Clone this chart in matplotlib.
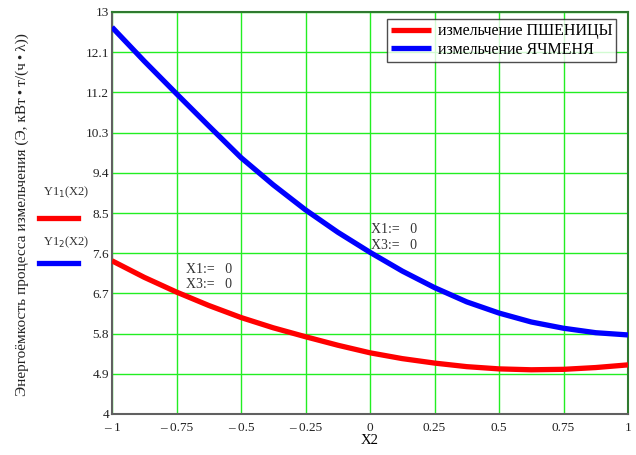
import matplotlib
matplotlib.use("Agg")
import matplotlib.pyplot as plt
from matplotlib.lines import Line2D

plt.rcParams["font.family"] = ["Liberation Serif", "DejaVu Serif"]

# values
x2 = [-1.0, -0.875, -0.75, -0.625, -0.5, -0.375, -0.25, -0.125, 0.0,
      0.125, 0.25, 0.375, 0.5, 0.625, 0.75, 0.875, 1.0]
wheat = [7.43, 7.06, 6.73, 6.43, 6.16, 5.93, 5.73, 5.54, 5.37,
         5.24, 5.14, 5.06, 5.01, 4.99, 5.00, 5.04, 5.10]
barley = [12.66, 11.90, 11.17, 10.45, 9.74, 9.13, 8.57, 8.07, 7.62,
          7.20, 6.83, 6.51, 6.26, 6.06, 5.92, 5.82, 5.77]

x_ticks = [-1, -0.75, -0.5, -0.25, 0, 0.25, 0.5, 0.75, 1]
x_tick_labels = ["\u2013 1", "\u2013 0.75", "\u2013 0.5", "\u2013 0.25", "0",
                 "0.25", "0.5", "0.75", "1"]
y_ticks = [4, 4.9, 5.8, 6.7, 7.6, 8.5, 9.4, 10.3, 11.2, 12.1, 13]
y_tick_labels = ["4", "4.9", "5.8", "6.7", "7.6", "8.5", "9.4", "10.3",
                 "11.2", "12.1", "13"]

GRID = "#22ee22"
RED = "#ff0000"
BLUE = "#0000ff"

fig = plt.figure(figsize=(6.36, 4.55), dpi=100)
ax = fig.add_axes([112 / 636, 1 - 414 / 455, 516 / 636, 402 / 455])

ax.plot(x2, wheat, color=RED, lw=3.8, solid_capstyle="butt",
        solid_joinstyle="round", label="измельчение ПШЕНИЦЫ", zorder=3)
ax.plot(x2, barley, color=BLUE, lw=3.8, solid_capstyle="butt",
        solid_joinstyle="round", label="измельчение ЯЧМЕНЯ", zorder=3)

ax.set_xlim(-1, 1)
ax.set_ylim(4, 13)
ax.set_xticks(x_ticks)
ax.set_xticklabels(x_tick_labels)
ax.set_yticks(y_ticks)
ax.set_yticklabels(y_tick_labels)
ax.tick_params(length=0, labelsize=9.5, colors="#222222")
ax.tick_params(axis="x", pad=6)
ax.tick_params(axis="y", pad=2)
ax.grid(True, color=GRID, lw=1.0, zorder=1)

for side in ("left", "bottom"):
    ax.spines[side].set_color("#606060")
    ax.spines[side].set_linewidth(1.5)
for side in ("top", "right"):
    ax.spines[side].set_color("#2f7a2f")
    ax.spines[side].set_linewidth(1.5)

ax.set_xlabel("X2", fontsize=10.5, labelpad=0)
fig.text(22 / 636, 1 - 215 / 455,
         "Энергоёмкость процесса измельчения (Э, кВт\u2009•\u2009т/(ч\u2009•\u2009λ))",
         fontsize=11, rotation=90, ha="center", va="center",
         color="#222222")

leg = ax.legend(loc="upper right", bbox_to_anchor=(0.9775, 0.982),
                fontsize=11.5, frameon=True, fancybox=False,
                edgecolor="#222222", handlelength=2.5, handletextpad=0.4,
                borderpad=0.25, labelspacing=0.15, borderaxespad=0)
leg.get_frame().set_linewidth(1.0)

# Mathcad-style parameter notes
ax.text(-0.715, 7.07, "X1:=   0\nX3:=   0", fontsize=10, color="#333333",
        va="center", linespacing=1.25)
ax.text(0.005, 7.95, "X1:=   0\nX3:=   0", fontsize=10, color="#333333",
        va="center", linespacing=1.25)

# left-side trace legend
fig.text(43 / 636, 1 - 192 / 455, "Y1$_1$(X2)", fontsize=9, color="#333333",
         va="center")
fig.text(43 / 636, 1 - 242 / 455, "Y1$_2$(X2)", fontsize=9, color="#333333",
         va="center")
fig.add_artist(Line2D([39 / 636, 78 / 636], [1 - 217.5 / 455] * 2,
                      color=RED, lw=3.8))
fig.add_artist(Line2D([39 / 636, 78 / 636], [1 - 263 / 455] * 2,
                      color=BLUE, lw=3.8))

fig.savefig("out.png", dpi=100)
